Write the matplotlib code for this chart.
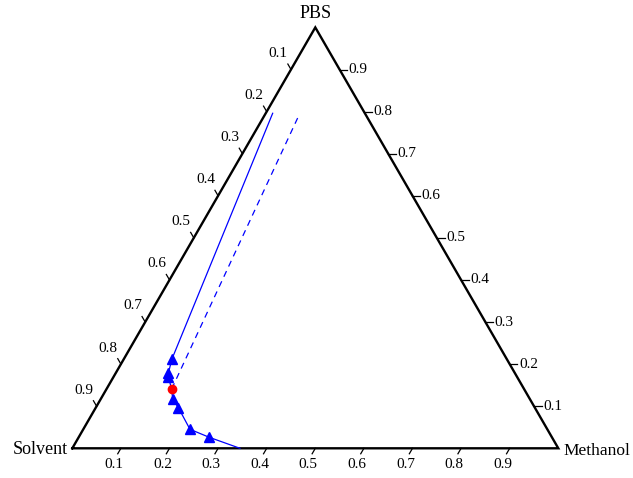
import matplotlib
matplotlib.use("Agg")
import matplotlib.pyplot as plt
import numpy as np

plt.rcParams['font.family'] = ['Liberation Serif', 'DejaVu Serif']

# binodal points (mass fractions): methanol, PBS ; solvent = 1 - M - P
binodal_methanol = [0.099, 0.1085, 0.113, 0.148, 0.170, 0.2196, 0.2688]
binodal_pbs = [0.212, 0.178, 0.169, 0.117, 0.0965, 0.0451, 0.0261]

# plait point
plait_methanol = 0.134
plait_pbs = 0.141

# curve drawn through the binodal points down to the base
curve_methanol = [0.099, 0.1085, 0.113, 0.134, 0.148, 0.170, 0.2196, 0.2688, 0.345]
curve_pbs = [0.212, 0.178, 0.169, 0.141, 0.117, 0.0965, 0.0451, 0.0261, 0.0]

# tie lines: (methanol, pbs) start and end
tie_solid_methanol = [0.099, 0.0143]
tie_solid_pbs = [0.212, 0.796]
tie_dash_methanol = [0.134, 0.071]
tie_dash_pbs = [0.141, 0.788]

ticks = [0.1, 0.2, 0.3, 0.4, 0.5, 0.6, 0.7, 0.8, 0.9]
h = np.sqrt(3) / 2


# ternary -> cartesian (Solvent at 0,0 ; Methanol at 1,0 ; PBS at top)
def tern(m, p):
    m = np.asarray(m, dtype=float)
    p = np.asarray(p, dtype=float)
    return m + p / 2, p * h


fig = plt.figure(figsize=(6.33, 4.78), dpi=100)
ax = fig.add_axes([0, 0, 1, 1])
ax.set_xlim(-72.3 / 486, (633 - 72.3) / 486)
ax.set_ylim(-29.7 / 486, (478 - 29.7) / 486)
ax.axis('off')

# triangle frame
ax.plot([0, 1, 0.5, 0], [0, 0, h, 0], color='black', lw=1.7, solid_joinstyle='miter', zorder=2)

tl = 0.013  # tick length
for t in ticks:
    # bottom axis (methanol)
    ax.plot([t, t - 0.5 * tl], [0, -h * tl], color='black', lw=0.9)
    ax.text(t - 0.5 * tl - 0.008, -h * tl - 0.022, f"{t:.1f}", fontsize=11, ha='center', va='center')
    # right axis (PBS)
    x, y = tern(1 - t, t)
    ax.plot([x, x + 0.016], [y, y], color='black', lw=0.9)
    ax.text(x + 0.019, y, f"{t:.1f}", fontsize=11, ha='left', va='center')
    # left axis (solvent)
    x, y = tern(0, 1 - t)
    ax.plot([x, x - 0.5 * tl], [y, y + h * tl], color='black', lw=0.9)
    ax.text(x - 0.026, y + 0.033, f"{t:.1f}", fontsize=11, ha='center', va='center')

ax.text(0.5, h + 0.028, "PBS", fontsize=13, ha='center', va='center')
ax.text(-0.01, -0.002, "Solvent", fontsize=13, ha='right', va='center')
ax.text(1.011, -0.006, "Methanol", fontsize=12.5, ha='left', va='center')

# binodal curve and tie lines
x, y = tern(curve_methanol, curve_pbs)
ax.plot(x, y, color='#0000ff', lw=0.9, zorder=3)
x, y = tern(tie_solid_methanol, tie_solid_pbs)
ax.plot(x, y, color='#0000ff', lw=0.9, zorder=3)
x, y = tern(tie_dash_methanol, tie_dash_pbs)
ax.plot(x, y, color='#0000ff', lw=0.9, ls=(0, (5, 4)), zorder=3)

x, y = tern(binodal_methanol, binodal_pbs)
ax.plot(x, y, ls='none', marker='^', ms=6.5, color='#0000ff', zorder=4)
x, y = tern(plait_methanol, plait_pbs)
ax.plot(x, y, ls='none', marker='o', ms=6, color='#ff0000', zorder=5)

fig.savefig("out.png", dpi=100)
